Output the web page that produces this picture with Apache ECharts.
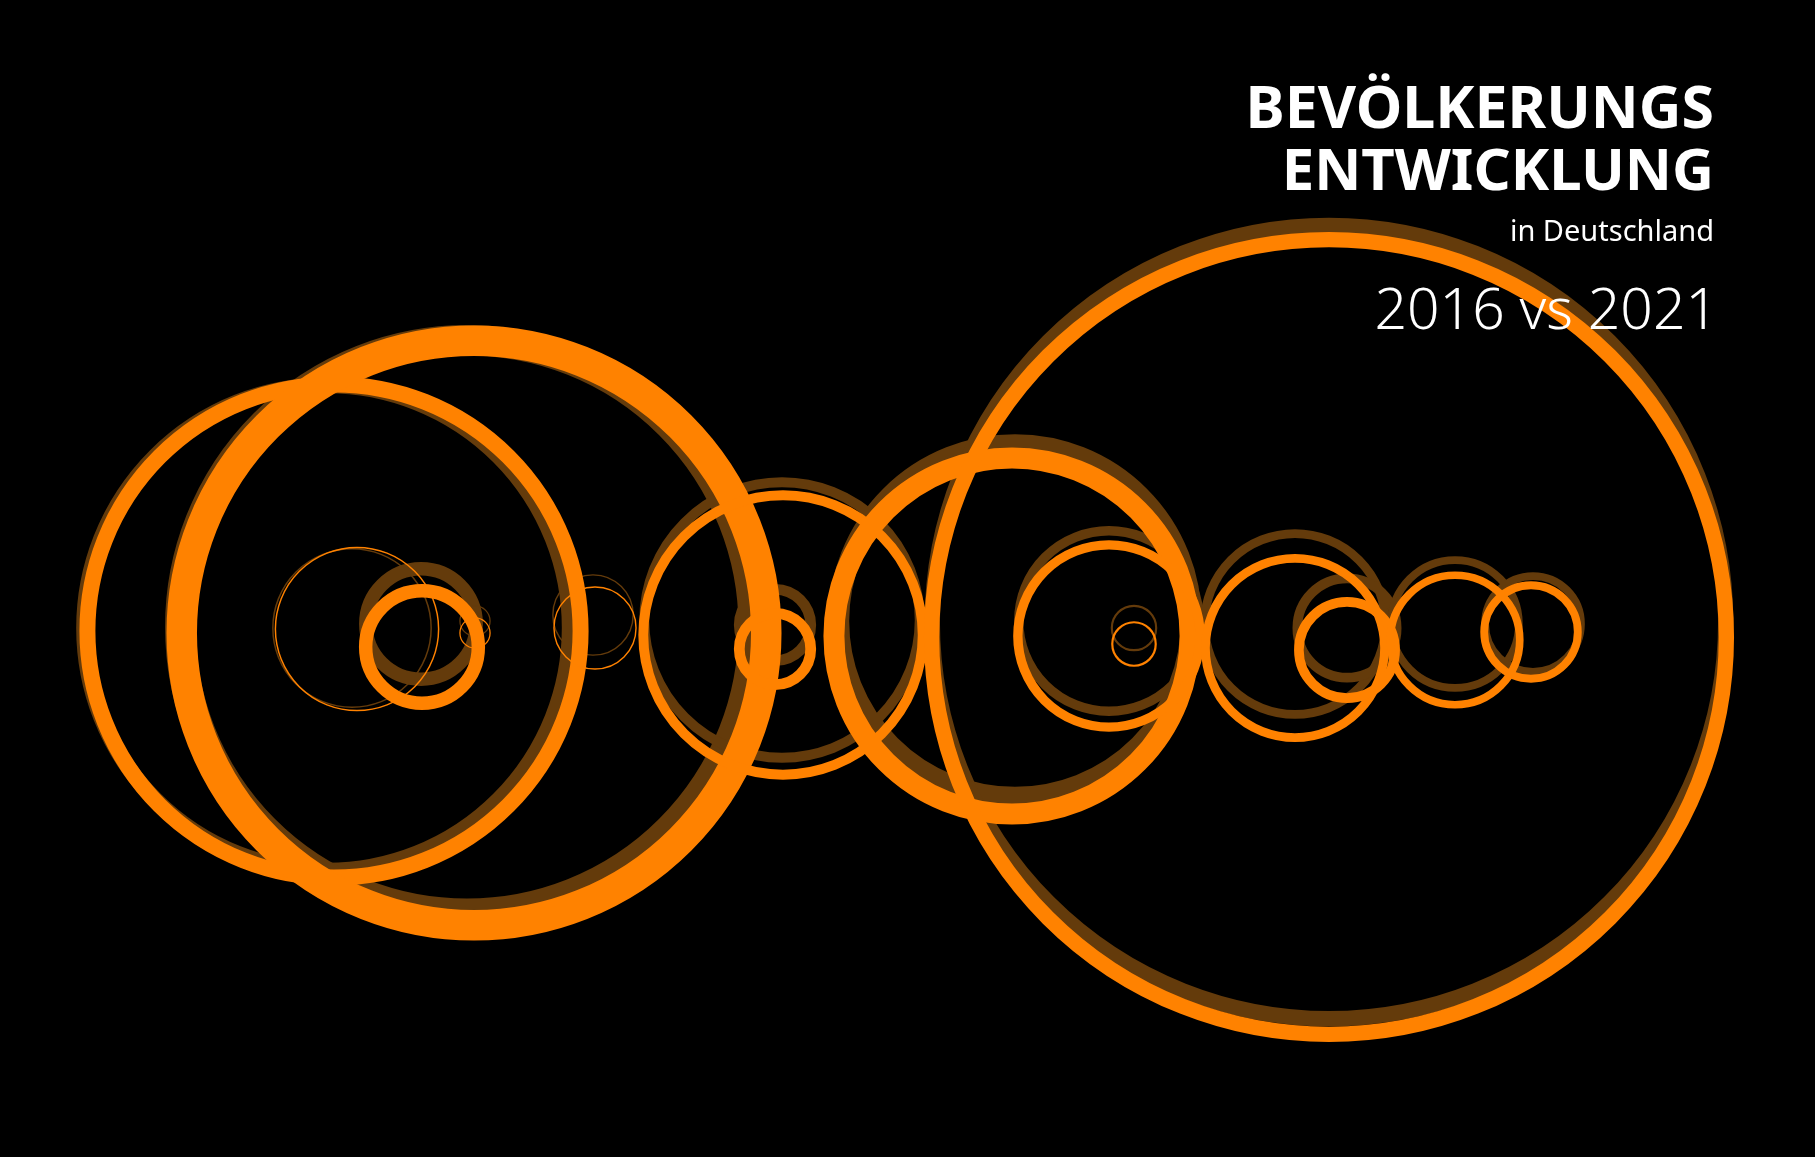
<!DOCTYPE html>
<html>
<head>
<meta charset="utf-8">
<title>Bevölkerungsentwicklung</title>
<script src="https://cdn.jsdelivr.net/npm/echarts@6/dist/echarts.min.js"></script>
<style>
	html, body { margin: 0; padding: 0; background: #000; }
	#chart { width: 1815px; height: 1157px; }
</style>
</head>
<body>
<div id="chart"></div>

<script type="text/javascript">
	// Bundesländer (alphabetisch)
	var laender = ['Baden-Württemberg', 'Bayern', 'Berlin', 'Brandenburg', 'Bremen', 'Hamburg', 'Hessen',
		'Mecklenburg-Vorpommern', 'Niedersachsen', 'Nordrhein-Westfalen', 'Rheinland-Pfalz', 'Saarland',
		'Sachsen', 'Sachsen-Anhalt', 'Schleswig-Holstein', 'Thüringen'];
	// Einwohner in Mio.
	var einwohner2016 = [10.95, 12.93, 3.57, 2.49, 0.68, 1.81, 6.21, 1.61, 7.95, 17.89, 4.07, 1.00, 4.08, 2.24, 2.88, 2.16];
	var einwohner2021 = [11.12, 13.18, 3.68, 2.54, 0.68, 1.85, 6.30, 1.61, 8.03, 17.92, 4.11, 0.98, 4.04, 2.17, 2.92, 2.11];
	// Fläche in km² -> Linienstärke
	var flaeche = [35748, 70542, 891, 29654, 419, 755, 21116, 23295, 47710, 34112, 19858, 2571, 18450, 20459, 15804, 16202];
	// Lage der Kreise
	var x2016 = [327, 467, 352, 421, 475, 593, 782, 775, 1015, 1329, 1109, 1134, 1295, 1347, 1455, 1533];
	var y2016 = [628, 627, 628, 624, 621, 615, 620, 625, 621, 622, 621, 628, 624, 628, 624, 624];
	var x2021 = [334, 474, 357, 422, 475, 595, 783, 775, 1012, 1329, 1109, 1134, 1295, 1347, 1455, 1531];
	var y2021 = [631, 633, 629, 647, 633, 628, 635, 649, 636, 637, 636, 644, 648, 650, 640, 632];

	var PX_PRO_MIO = 44.35;   // Kreisdurchmesser je Mio. Einwohner
	var KM2_PRO_PX = 2400;    // Fläche je Pixel Linienstärke

	function kreise(xs, ys, pop) {
		var out = [];
		for (var i = 0; i < laender.length; i++) {
			out.push({
				name: laender[i],
				value: [xs[i], ys[i], pop[i]],
				symbolSize: pop[i] * PX_PRO_MIO,
				itemStyle: { borderWidth: flaeche[i] / KM2_PRO_PX + 1.1 }
			});
		}
		return out;
	}

	var chart = echarts.init(document.getElementById('chart'));
	chart.setOption({
		backgroundColor: '#000',
		animation: false,
		grid: { left: 0, right: 0, top: 0, bottom: 0 },
		xAxis: { type: 'value', min: 0, max: 1815, show: false },
		yAxis: { type: 'value', min: 0, max: 1157, inverse: true, show: false },
		graphic: [
			{ type: 'text', right: 101, top: 82, z: 100, style: { text: 'BEVÖLKERUNGS', fill: '#fff', font: 'bold 59px "Noto Sans"' } },
			{ type: 'text', right: 101, top: 144, z: 100, style: { text: 'ENTWICKLUNG', fill: '#fff', font: 'bold 58px "Noto Sans"' } },
			{ type: 'text', right: 101, top: 218, z: 100, style: { text: 'in Deutschland', fill: '#fff', font: '29px "Noto Sans"' } },
			{ type: 'text', right: 97, top: 284, z: 100, style: { text: '2016 vs 2021', fill: '#fff', font: '300 57px "Noto Sans"' } }
		],
		series: [{
			name: '2016',
			type: 'scatter',
			symbol: 'circle',
			clip: false,
			silent: true,
			z: 1,
			itemStyle: { color: 'transparent', borderColor: '#643b0b', opacity: 1 },
			data: kreise(x2016, y2016, einwohner2016)
		}, {
			name: '2021',
			type: 'scatter',
			symbol: 'circle',
			clip: false,
			silent: true,
			z: 2,
			itemStyle: { color: 'transparent', borderColor: '#ff8200', opacity: 1 },
			data: kreise(x2021, y2021, einwohner2021)
		}]
	});
</script>
</body>
</html>
